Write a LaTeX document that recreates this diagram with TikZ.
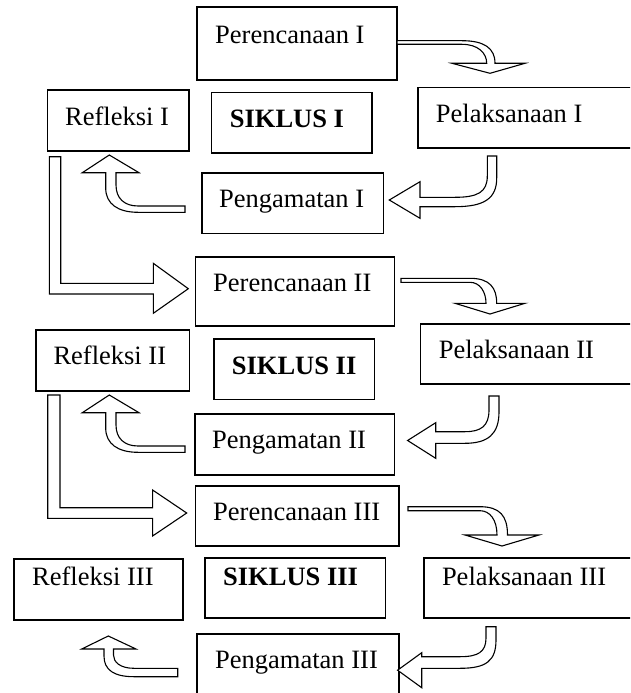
\documentclass[tikz,border=0pt]{standalone}
\usepackage{fontspec}
\setmainfont{Liberation Serif}
\begin{document}
\begin{tikzpicture}[x=1pt,y=-1pt,
  box/.style={draw,line width=1.6pt,inner sep=0pt,outer sep=0pt},
  blk/.style={draw,fill=white,line width=1.1pt,line join=miter},
  lbl/.style={anchor=base west,inner sep=0pt,font=\fontsize{26.5}{30}\selectfont},
  blbl/.style={lbl,font=\fontsize{26.5}{30}\selectfont\bfseries}]
\useasboundingbox (0,0) rectangle (630,693);
\clip (0,0) rectangle (630,693);
% boxes
\node[box,minimum width=200pt,minimum height=73pt] (pc1) at (297,43.5) {};
\node[box,minimum width=141.5pt,minimum height=61pt] (rf1) at (118.25,120.5) {};
\node[box,minimum width=160.5pt,minimum height=60.5pt] (sk1) at (291.75,122.75) {};
\node[box,minimum width=232pt,minimum height=60.5pt] (pl1) at (534,117.75) {};
\node[box,minimum width=181.5pt,minimum height=60.6pt] (pg1) at (292.75,203) {};
\node[box,minimum width=199pt,minimum height=69.3pt] (pc2) at (295,291.35) {};
\node[box,minimum width=153.6pt,minimum height=60.7pt] (rf2) at (112.8,360.35) {};
\node[box,minimum width=160.6pt,minimum height=60.3pt] (sk2) at (294,369.15) {};
\node[box,minimum width=229.5pt,minimum height=60pt] (pl2) at (535.25,354) {};
\node[box,minimum width=199.4pt,minimum height=61pt] (pg2) at (294.7,444.5) {};
\node[box,minimum width=203.2pt,minimum height=60pt] (pc3) at (297.2,516) {};
\node[box,minimum width=168.7pt,minimum height=61pt] (rf3) at (98.35,589.5) {};
\node[box,minimum width=180.7pt,minimum height=60pt] (sk3) at (295.15,587.7) {};
\node[box,minimum width=226.3pt,minimum height=60pt] (pl3) at (536.85,587.7) {};
\node[box,minimum width=202pt,minimum height=76pt] (pg3) at (297.8,672) {};
% labels
\node[lbl] (tpc1) at (215,43.3) {Perencanaan I};
\node[lbl] (trf1) at (65,125.5) {Refleksi I};
\node[blbl] (tsk1) at (229.7,127) {SIKLUS I};
\node[lbl] (tpl1) at (435.7,122.5) {Pelaksanaan I};
\node[lbl] (tpg1) at (219,207) {Pengamatan I};
\node[lbl] (tpc2) at (213,291.7) {Perencanaan II};
\node[lbl] (trf2) at (53.3,364) {Refleksi II};
\node[blbl] (tsk2) at (231.7,374.5) {SIKLUS II};
\node[lbl] (tpl2) at (438.6,358) {Pelaksanaan II};
\node[lbl] (tpg2) at (212,448) {Pengamatan II};
\node[lbl] (tpc3) at (213,520.7) {Perencanaan III};
\node[lbl] (trf3) at (32,585) {Refleksi III};
\node[blbl] (tsk3) at (223,585) {SIKLUS III};
\node[lbl] (tpl3) at (441.8,585) {Pelaksanaan III};
\node[lbl] (tpg3) at (215,668) {Pengamatan III};
% Perencanaan -> Pelaksanaan
\draw[blk] (397,40.7) -- (462,40.7) .. controls (484,40.7) and (495,48) .. (495,63.3) -- (525,63.3) -- (490,73.3) -- (452,63.3) -- (486.7,63.3) .. controls (486.7,53) and (478,44.3) .. (462,44.3) -- (397,44.3) -- cycle;
\draw[blk] (401,278.3) -- (470,278.3) .. controls (490,278.3) and (496.7,288) .. (496.7,303.3) -- (525,303.3) -- (490,314) -- (455,303.3) -- (486,303.3) .. controls (486,292) and (480,282.3) .. (470,282.3) -- (401,282.3) -- cycle;
\draw[blk] (408,506.7) -- (480,506.7) .. controls (500,506.7) and (507.5,516) .. (507.5,535) -- (539,535) -- (502,546) -- (465,535) -- (497,535) .. controls (497,520) and (490,510.7) .. (480,510.7) -- (408,510.7) -- cycle;
% Pelaksanaan -> Pengamatan
\draw[blk] (487.3,156) -- (496.7,156) -- (496.7,178) .. controls (496.7,198) and (485,206.7) .. (455,206.7) -- (420,206.7) -- (420,218.3) -- (389.3,200) -- (420,181.7) -- (420,197.3) -- (455,197.3) .. controls (478,197.3) and (487.3,192) .. (487.3,176) -- cycle;
\draw[blk] (489,396) -- (499,396) -- (499,412) .. controls (499,434) and (488,443.3) .. (465,443.3) -- (435.7,443.3) -- (435.7,458.3) -- (407.6,440.5) -- (435.7,422.7) -- (435.7,431.7) -- (465,431.7) .. controls (481,431.7) and (489,426) .. (489,410) -- cycle;
\draw[blk] (486,626.7) -- (496,626.7) -- (496,640) .. controls (496,661) and (486,668.3) .. (460,668.3) -- (421.7,668.3) -- (421.7,687.7) -- (397.6,670.2) -- (421.7,652.7) -- (421.7,656.7) -- (460,656.7) .. controls (478,656.7) and (486,652) .. (486,638) -- cycle;
% Pengamatan -> Refleksi
\draw[blk] (185,206) -- (138,206) .. controls (124,206) and (116,198) .. (116,185) -- (116,172.7) -- (139,172.7) -- (109.3,155) -- (82.3,172.7) -- (105.7,172.7) -- (105.7,188) .. controls (105.7,204) and (118,212.3) .. (138,212.3) -- (185,212.3) -- cycle;
\begin{scope}[shift={(0,240)}]
\draw[blk] (185,206) -- (138,206) .. controls (124,206) and (116,198) .. (116,185) -- (116,172.7) -- (139,172.7) -- (109.3,155) -- (82.3,172.7) -- (105.7,172.7) -- (105.7,188) .. controls (105.7,204) and (118,212.3) .. (138,212.3) -- (185,212.3) -- cycle;
\end{scope}
\draw[blk] (177.7,668.3) -- (134,668.3) .. controls (120,668.3) and (113.5,662) .. (113.5,655) -- (113.5,649) -- (136,649) -- (108.3,636) -- (81.7,649) -- (104,649) -- (104,656) .. controls (104,670) and (114,676.7) .. (134,676.7) -- (177.7,676.7) -- cycle;
% Refleksi -> next Perencanaan
\draw[blk] (49.3,156.7) -- (60.7,156.7) -- (60.7,283.3) -- (153.3,283.3) -- (153.3,263.3) -- (188.3,288.7) -- (153.3,313.3) -- (153.3,294) -- (49.3,294) -- cycle;
\draw[blk] (47.7,395) -- (60,395) -- (60,507.7) -- (152.6,507.7) -- (152.6,490) -- (186.7,513) -- (152.6,536) -- (152.6,518.3) -- (47.7,518.3) -- cycle;
\end{tikzpicture}
\end{document}
